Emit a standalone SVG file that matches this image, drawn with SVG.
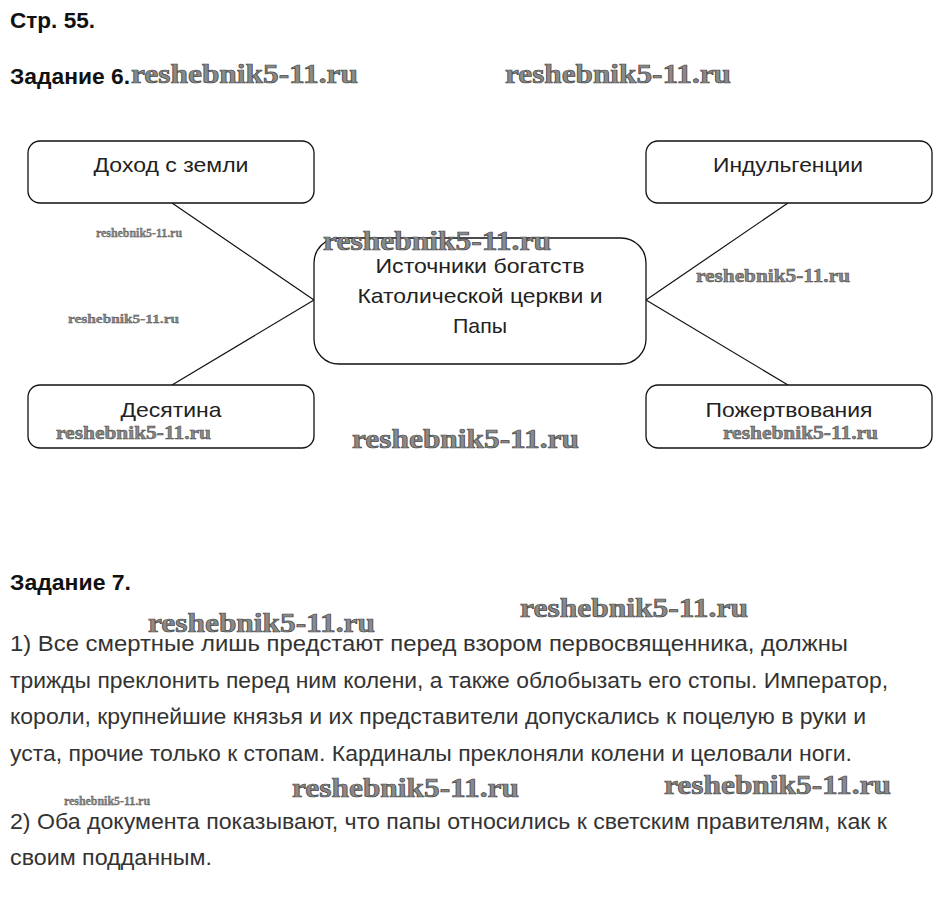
<svg xmlns="http://www.w3.org/2000/svg" width="942" height="916" viewBox="0 0 942 916">
<style>
.h{font-family:"Liberation Sans",Arial,sans-serif;font-weight:bold;font-size:22px;fill:#111}
.n{font-family:"Liberation Sans",Arial,sans-serif;font-size:21px;fill:#222;text-anchor:middle}
.p{font-family:"Liberation Sans",Arial,sans-serif;font-size:22px;fill:#333}
.box{fill:#fff;stroke:#111;stroke-width:1.3}
.ln{stroke:#111;stroke-width:1.2;fill:none}
.w{font-family:"Liberation Serif","Times New Roman",serif;font-weight:bold;fill:#8a8a8a;stroke:#444;stroke-width:0.7}
.wl{font-size:27px}
.wm{font-size:19px;stroke-width:0.5}
.ws{font-size:12px;stroke-width:0.3}
</style>
<rect width="942" height="916" fill="#fff"/>
<text class="h" x="10" y="28" textLength="85" lengthAdjust="spacingAndGlyphs">Стр. 55.</text>
<text class="h" x="10" y="84" textLength="120" lengthAdjust="spacingAndGlyphs">Задание 6.</text>
<g id="connectors">
<line class="ln" x1="172" y1="203" x2="314" y2="300"/>
<line class="ln" x1="172" y1="385" x2="314" y2="300"/>
<line class="ln" x1="788" y1="203" x2="646" y2="300"/>
<line class="ln" x1="788" y1="385" x2="646" y2="300"/>
</g>
<g id="node-dohod">
<rect class="box" x="28" y="141" width="286" height="62" rx="12"/>
<text class="n" x="171" y="172" textLength="155" lengthAdjust="spacingAndGlyphs">Доход с земли</text>
</g>
<g id="node-indulgencii">
<rect class="box" x="646" y="141" width="286" height="62" rx="12"/>
<text class="n" x="788" y="172" textLength="150" lengthAdjust="spacingAndGlyphs">Индульгенции</text>
</g>
<g id="node-center">
<rect class="box" x="314" y="238" width="332" height="126" rx="25"/>
<text class="n" x="480" y="273" textLength="209" lengthAdjust="spacingAndGlyphs">Источники богатств</text>
<text class="n" x="480" y="303" textLength="245" lengthAdjust="spacingAndGlyphs">Католической церкви и</text>
<text class="n" x="480" y="333" textLength="54" lengthAdjust="spacingAndGlyphs">Папы</text>
</g>
<g id="node-desyatina">
<rect class="box" x="28" y="385" width="286" height="63" rx="12"/>
<text class="n" x="171" y="417" textLength="101" lengthAdjust="spacingAndGlyphs">Десятина</text>
</g>
<g id="node-pozhertvovaniya">
<rect class="box" x="646" y="385" width="286" height="63" rx="12"/>
<text class="n" x="789" y="417" textLength="167" lengthAdjust="spacingAndGlyphs">Пожертвования</text>
</g>
<text class="h" x="10" y="590" textLength="121" lengthAdjust="spacingAndGlyphs">Задание 7.</text>
<text class="p" x="10" y="651" textLength="838" lengthAdjust="spacingAndGlyphs">1) Все смертные лишь предстают перед взором первосвященника, должны</text>
<text class="p" x="10" y="688" textLength="878" lengthAdjust="spacingAndGlyphs">трижды преклонить перед ним колени, а также облобызать его стопы. Император,</text>
<text class="p" x="10" y="724" textLength="856" lengthAdjust="spacingAndGlyphs">короли, крупнейшие князья и их представители допускались к поцелую в руки и</text>
<text class="p" x="10" y="761" textLength="842" lengthAdjust="spacingAndGlyphs">уста, прочие только к стопам. Кардиналы преклоняли колени и целовали ноги.</text>
<text class="p" x="10" y="829" textLength="877" lengthAdjust="spacingAndGlyphs">2) Оба документа показывают, что папы относились к светским правителям, как к</text>
<text class="p" x="10" y="865" textLength="202" lengthAdjust="spacingAndGlyphs">своим подданным.</text>
<g id="watermarks">
<text class="w wl" x="131" y="83" textLength="227" lengthAdjust="spacingAndGlyphs">reshebnik5-11.ru</text>
<text class="w wl" x="505" y="83" textLength="226" lengthAdjust="spacingAndGlyphs">reshebnik5-11.ru</text>
<text class="w ws" x="96" y="237" textLength="86" lengthAdjust="spacingAndGlyphs">reshebnik5-11.ru</text>
<text class="w wl" x="323" y="250" textLength="228" lengthAdjust="spacingAndGlyphs">reshebnik5-11.ru</text>
<text class="w ws" x="68" y="323" textLength="111" lengthAdjust="spacingAndGlyphs">reshebnik5-11.ru</text>
<text class="w wm" x="696" y="282" textLength="154" lengthAdjust="spacingAndGlyphs">reshebnik5-11.ru</text>
<text class="w wm" x="56" y="439" textLength="155" lengthAdjust="spacingAndGlyphs">reshebnik5-11.ru</text>
<text class="w wl" x="352" y="448" textLength="227" lengthAdjust="spacingAndGlyphs">reshebnik5-11.ru</text>
<text class="w wm" x="723" y="439" textLength="155" lengthAdjust="spacingAndGlyphs">reshebnik5-11.ru</text>
<text class="w wl" x="148" y="632" textLength="227" lengthAdjust="spacingAndGlyphs">reshebnik5-11.ru</text>
<text class="w wl" x="520" y="617" textLength="228" lengthAdjust="spacingAndGlyphs">reshebnik5-11.ru</text>
<text class="w ws" x="64" y="805" textLength="86" lengthAdjust="spacingAndGlyphs">reshebnik5-11.ru</text>
<text class="w wl" x="292" y="797" textLength="227" lengthAdjust="spacingAndGlyphs">reshebnik5-11.ru</text>
<text class="w wl" x="664" y="794" textLength="227" lengthAdjust="spacingAndGlyphs">reshebnik5-11.ru</text>
</g>
</svg>
